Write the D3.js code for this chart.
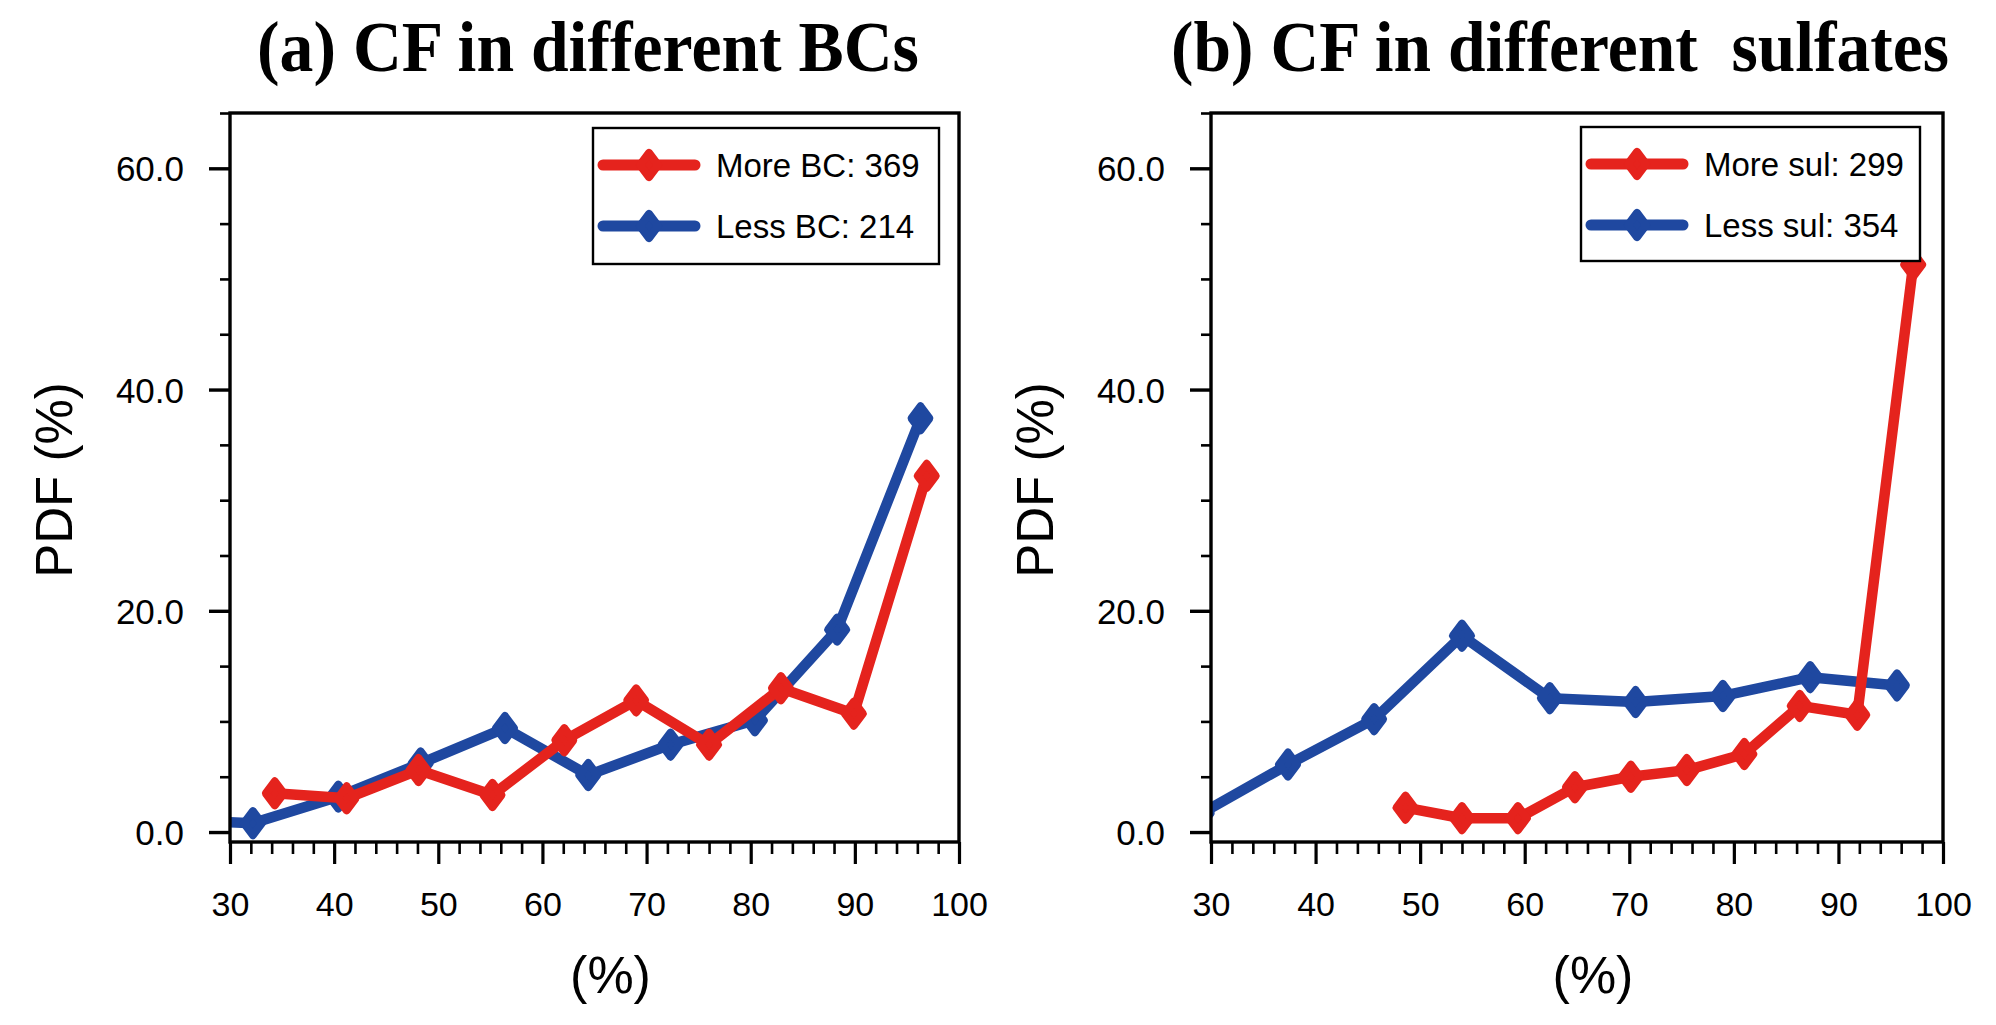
<!DOCTYPE html>
<html>
<head>
<meta charset="utf-8">
<script src="https://cdn.jsdelivr.net/npm/d3@7/dist/d3.min.js"></script>
<style>
  html, body { margin: 0; padding: 0; background: #ffffff; }
  svg { display: block; }
</style>
</head>
<body>
<svg id="chart" width="1996" height="1025"></svg>
<script>
// ---------------- DATA ----------------
const xMajorTicks = [30, 40, 50, 60, 70, 80, 90, 100];
const yMajorTicks = [0, 20, 40, 60];
const panelTitles = ["(a) CF in different BCs", "(b) CF in different  sulfates"];
const xAxisTitle = "(%)";
const yAxisTitle = "PDF (%)";

// Panel (a): CF in different BCs
const bcLegend = ["More BC: 369", "Less BC: 214"];
const bcMoreX = [34.3, 41.2, 48.1, 55.2, 62.1, 69.0, 76.0, 82.9, 89.9, 96.9];
const bcMoreY = [3.5, 3.05, 5.6, 3.35, 8.3, 11.9, 7.9, 13.0, 10.7, 32.2];
const bcLessX = [24.2, 32.2, 40.4, 48.3, 56.4, 64.4, 72.3, 80.4, 88.3, 96.3];
const bcLessY = [1.1, 0.8, 3.2, 6.2, 9.4, 5.15, 7.9, 10.1, 18.3, 37.4];

// Panel (b): CF in different sulfates
const sulLegend = ["More sul: 299", "Less sul: 354"];
const sulMoreX = [48.6, 54.0, 59.35, 64.8, 70.15, 75.5, 81.0, 86.3, 91.8, 97.15];
const sulMoreY = [2.2, 1.25, 1.25, 4.05, 5.0, 5.6, 7.05, 11.4, 10.6, 51.3];
const sulLessX = [29.1, 37.36, 45.6, 54.0, 62.4, 70.6, 78.95, 87.3, 95.6];
const sulLessY = [1.7, 6.1, 10.2, 17.75, 12.1, 11.75, 12.3, 14.0, 13.25];

// ---------------- STYLE / LAYOUT ----------------
const RED = "#e5231d";
const BLUE = "#1f48a0";
const sansFont = "'Liberation Sans', Arial, Helvetica, sans-serif";
const serifFont = "'Liberation Serif', 'Times New Roman', Times, serif";

const svg = d3.select("#chart");

const panels = [
  {
    left: 230, right: 959, top: 113, bottom: 842,
    title: panelTitles[0], titleCx: 588, titleLen: 662,
    legend: bcLegend, legendBox: { x: 593, y: 128, w: 346, h: 136 },
    series: [
      { xs: bcLessX, ys: bcLessY, color: BLUE },
      { xs: bcMoreX, ys: bcMoreY, color: RED }
    ]
  },
  {
    left: 1211, right: 1943, top: 113, bottom: 842,
    title: panelTitles[1], titleCx: 1560, titleLen: 778,
    legend: sulLegend, legendBox: { x: 1581, y: 127, w: 339, h: 134 },
    series: [
      { xs: sulLessX, ys: sulLessY, color: BLUE },
      { xs: sulMoreX, ys: sulMoreY, color: RED }
    ]
  }
];

function diamondPath(cx, cy, hw, hh) {
  return `M${cx},${cy - hh}L${cx + hw},${cy}L${cx},${cy + hh}L${cx - hw},${cy}Z`;
}

panels.forEach((p, pi) => {
  const x = d3.scaleLinear().domain([30, 100]).range([p.left, p.right]);
  const y = d3.scaleLinear().domain([-0.9, 65]).range([p.bottom, p.top]);
  const g = svg.append("g");

  // clip
  const clipId = "clip" + pi;
  svg.append("defs").append("clipPath").attr("id", clipId)
    .append("rect")
    .attr("x", p.left).attr("y", p.top)
    .attr("width", p.right - p.left).attr("height", p.bottom - p.top);

  // X axis: minor ticks
  const xMinor = d3.range(30, 101, 2).filter(v => v % 10 !== 0);
  g.append("g")
    .attr("transform", `translate(0,${p.bottom})`)
    .call(d3.axisBottom(x).tickValues(xMinor).tickSize(12).tickSizeOuter(0).tickFormat(""))
    .call(a => a.select(".domain").remove())
    .call(a => a.selectAll("line").attr("stroke", "#000").attr("stroke-width", 2.6));
  // X axis: major ticks
  g.append("g")
    .attr("transform", `translate(0,${p.bottom})`)
    .call(d3.axisBottom(x).tickValues(xMajorTicks).tickSize(22).tickSizeOuter(0).tickPadding(0).tickFormat(d3.format("d")))
    .call(a => a.select(".domain").remove())
    .call(a => a.selectAll("line").attr("stroke", "#000").attr("stroke-width", 3.2))
    .call(a => a.selectAll("text")
      .attr("y", 0).attr("dy", null)
      .attr("transform", "translate(0,74)")
      .attr("fill", "#000")
      .style("font-family", sansFont).style("font-size", "34px"));

  // Y axis: minor ticks
  const yMinor = d3.range(5, 66, 5).filter(v => v % 20 !== 0);
  g.append("g")
    .attr("transform", `translate(${p.left},0)`)
    .call(d3.axisLeft(y).tickValues(yMinor).tickSize(10).tickSizeOuter(0).tickFormat(""))
    .call(a => a.select(".domain").remove())
    .call(a => a.selectAll("line").attr("stroke", "#000").attr("stroke-width", 2.6));
  // Y axis: major ticks
  g.append("g")
    .attr("transform", `translate(${p.left},0)`)
    .call(d3.axisLeft(y).tickValues(yMajorTicks).tickSize(21).tickSizeOuter(0).tickPadding(25).tickFormat(d3.format(".1f")))
    .call(a => a.select(".domain").remove())
    .call(a => a.selectAll("line").attr("stroke", "#000").attr("stroke-width", 3.4))
    .call(a => a.selectAll("text")
      .attr("fill", "#000")
      .attr("dy", "0.36em")
      .style("font-family", sansFont).style("font-size", "35px"));

  // Data lines
  const dg = g.append("g").attr("clip-path", `url(#${clipId})`);
  p.series.forEach(s => {
    const pts = s.xs.map((xv, i) => [xv, s.ys[i]]);
    dg.append("path")
      .datum(pts)
      .attr("fill", "none")
      .attr("stroke", s.color)
      .attr("stroke-width", 10.5)
      .attr("stroke-linejoin", "round")
      .attr("stroke-linecap", "round")
      .attr("d", d3.line().x(d => x(d[0])).y(d => y(d[1])));
    dg.selectAll(null)
      .data(pts)
      .enter()
      .append("path")
      .attr("d", d => diamondPath(x(d[0]), y(d[1]), 9, 12))
      .attr("fill", s.color)
      .attr("stroke", s.color)
      .attr("stroke-width", 8)
      .attr("stroke-linejoin", "round");
  });

  // Frame
  g.append("rect")
    .attr("x", p.left).attr("y", p.top)
    .attr("width", p.right - p.left).attr("height", p.bottom - p.top)
    .attr("fill", "none").attr("stroke", "#000").attr("stroke-width", 3.4);

  // Legend
  const lb = p.legendBox;
  const lg = g.append("g");
  lg.append("rect")
    .attr("x", lb.x).attr("y", lb.y).attr("width", lb.w).attr("height", lb.h)
    .attr("fill", "#fff").attr("stroke", "#000").attr("stroke-width", 2.4);
  const legendColors = [RED, BLUE];
  p.legend.forEach((label, i) => {
    const cy = lb.y + 37 + i * 61;
    const x0 = lb.x + 4, x1 = lb.x + 108;
    lg.append("line")
      .attr("x1", x0 + 6).attr("x2", x1 - 6)
      .attr("y1", cy).attr("y2", cy)
      .attr("stroke", legendColors[i]).attr("stroke-width", 11)
      .attr("stroke-linecap", "round");
    lg.append("path")
      .attr("d", diamondPath((x0 + x1) / 2, cy, 9, 12))
      .attr("fill", legendColors[i]).attr("stroke", legendColors[i])
      .attr("stroke-width", 8).attr("stroke-linejoin", "round");
    lg.append("text")
      .attr("x", lb.x + 123).attr("y", cy + 12)
      .attr("fill", "#000")
      .style("font-family", sansFont).style("font-size", "33px")
      .text(label);
  });

  // Title (bold serif, slightly condensed to match the original width)
  const t = g.append("text")
    .attr("x", 0).attr("y", 0)
    .attr("text-anchor", "middle")
    .attr("xml:space", "preserve")
    .style("white-space", "pre")
    .style("font-family", serifFont).style("font-size", "72px").style("font-weight", "bold")
    .attr("fill", "#000")
    .text(p.title);
  const natural = t.node().getComputedTextLength() || p.titleLen;
  const sx = p.titleLen / natural;
  t.attr("transform", `translate(${p.titleCx},71) scale(${sx},1)`);

  // X axis title
  g.append("text")
    .attr("x", (p.left + p.right) / 2 + 16).attr("y", 993)
    .attr("text-anchor", "middle")
    .style("font-family", sansFont).style("font-size", "52px")
    .attr("fill", "#000")
    .text(xAxisTitle);

  // Y axis title
  g.append("text")
    .attr("transform", `translate(${p.left - 158},${480}) rotate(-90)`)
    .attr("text-anchor", "middle")
    .style("font-family", sansFont).style("font-size", "51px")
    .attr("fill", "#000")
    .text(yAxisTitle);
});
</script>
</body>
</html>
